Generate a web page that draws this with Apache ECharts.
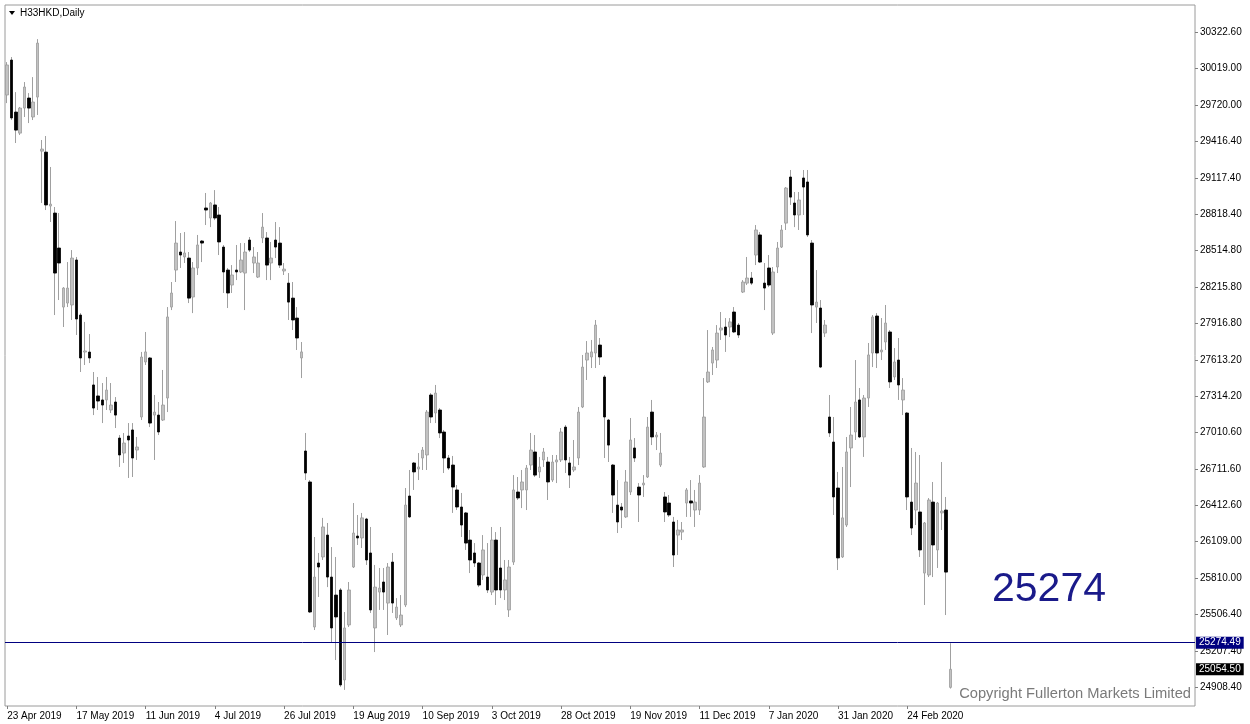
<!DOCTYPE html>
<html><head><meta charset="utf-8">
<script src="https://cdn.jsdelivr.net/npm/echarts@6.0.0/dist/echarts.min.js"></script>
<style>html,body{margin:0;padding:0;background:#fff}#c{width:1250px;height:724px}</style>
</head><body><div id="c"></div>
<script>
const openP = [29802,30091,29661,29487,29694,29777,29620,29785,29338,29330,28884,28826,28537,28049,28082,28066,28438,27983,27677,27677,
27405,27314,27281,27281,27198,27264,26966,26842,26983,27033,26867,27140,27595,27628,27156,27156,27115,27297,28049,28355,
28504,28463,28454,28132,28372,28595,28868,28785,28893,28810,28545,28355,28231,28355,28339,28330,28603,28413,28297,28620,
28620,28413,28603,28578,28347,28247,28123,27958,27628,26859,26603,25404,25933,25983,26164,25817,25668,25710,24966,25421,
25900,26156,26140,26297,26016,25396,25693,25776,25602,25941,25479,25421,25586,26487,26760,26710,26801,26826,27322,27173,
27198,27016,26801,26743,26537,26396,26347,26123,26016,25933,25834,25817,25693,26123,25892,25710,25545,25941,26520,26537,
26537,26743,26851,26686,26785,26768,26619,26768,26785,27057,26760,26702,26801,27223,27611,27636,27669,27735,27471,27115,
26743,26412,26396,26314,26520,26884,26561,26578,26644,27181,26975,26743,26479,26429,26272,26164,26189,26429,26446,26371,
26371,26727,27430,27586,27611,27859,27884,27884,28008,27900,28173,28247,28289,28479,28645,28247,28372,27834,28380,28545,
28743,29124,28909,28810,29116,29083,28578,28049,28041,27834,27140,26933,26553,25983,26247,26884,27016,27281,26975,27297,
27669,27975,27678,27760,27843,27471,27611,27281,27173,26437,26371,26355,25850,25834,26437,26041,26347,26371,24905];
const closeP = [30050,29612,29512,29694,29868,29694,29744,30231,29355,28893,28900,28330,28413,28206,28206,28454,27950,27628,27686,27628,
27214,27272,27239,27363,27239,27156,26826,26925,26950,26801,26892,27636,27678,27090,27181,27016,27239,27967,28165,28578,
28479,28496,28123,28372,28562,28578,28851,28909,28785,28587,28339,28165,28314,28339,28438,28504,28520,28463,28413,28710,
28396,28454,28545,28396,28363,28090,27942,27793,27678,26677,25528,25817,25900,26231,25817,25396,25487,24925,25396,25710,
26181,26140,26306,25958,25545,25734,25726,25693,25900,25602,25569,25503,26412,26314,26686,26727,26867,27181,27140,27338,
27008,26801,26718,26561,26396,26247,26098,25958,25933,25751,26041,25710,26123,25710,25710,25793,25900,26537,26471,26603,
26718,26867,26660,26727,26851,26603,26768,26785,27016,26785,26660,26727,27181,27553,27669,27678,27900,27636,27140,26908,
26495,26272,26371,26603,26950,26801,26495,26594,27057,26975,26991,26842,26355,26330,25999,26206,26206,26537,26429,26437,
26594,27140,27512,27694,27834,27876,27818,27926,27843,27818,28256,28289,28247,28686,28421,28206,28231,28339,28537,28686,
29033,28958,28810,28934,29041,28645,28066,28090,27553,27900,27008,26479,25975,26306,26851,26991,27264,26975,27297,27653,
27967,27669,27694,27917,27430,27595,27405,27363,26479,26222,26594,26041,26264,26454,26082,26429,26363,25858,25054.5];
const lowP = [29735,29595,29405,29471,29620,29570,29595,29637,28909,28851,28752,27983,28107,27884,28049,27942,27818,27512,27570,27586,
27156,27198,27090,27198,27173,27049,26727,26760,26636,26644,26785,27115,27570,27057,26785,26991,27107,27181,28024,28256,
28372,28413,28082,27999,28314,28421,28727,28710,28768,28479,28165,28041,28165,28272,28330,28024,28504,28330,28289,28578,
28272,28272,28454,28372,28314,27942,27859,27694,27462,26619,25520,25379,25652,25958,25734,25280,25131,24909,24884,25404,
25892,26082,26057,25917,25520,25197,25545,25545,25338,25520,25462,25404,25569,26306,26537,26619,26702,26702,27090,27090,
26966,26677,26702,26347,26371,26148,26041,25850,25900,25734,25793,25685,25668,25586,25643,25627,25487,25917,26454,26387,
26371,26702,26644,26636,26727,26454,26603,26594,26768,26677,26553,26686,26743,27214,27446,27545,27545,27570,26801,26768,
26347,26181,26222,26306,26495,26768,26272,26479,26636,26908,26867,26727,26272,26314,25900,25999,26123,26314,26314,26231,
26330,26720,27421,27487,27545,27777,27678,27801,27834,27793,28165,28231,28231,28396,28413,28024,28214,27818,28330,28537,
28686,28893,28710,28686,28810,28628,27834,27917,27545,27801,26975,26330,25875,25975,26231,26561,26950,26966,26810,27223,
27553,27545,27611,27694,27380,27446,27281,27156,26371,26164,26247,25983,25586,25817,25817,25892,26206,25503,24895];
const highP = [30074,30116,29826,29703,29909,29818,29950,30264,29430,29463,29207,28876,28826,28214,28421,28520,28463,27999,27926,27826,
27512,27471,27421,27471,27421,27305,26991,27008,27090,27090,26975,27678,27843,27636,27322,27264,27529,28049,28256,28760,
28661,28669,28504,28421,28645,28603,28992,28917,29016,28876,28562,28372,28396,28562,28578,28578,28628,28545,28504,28826,
28669,28587,28752,28710,28413,28330,28256,28049,27760,27008,26619,26148,26016,26306,26264,26065,25983,25726,25528,25776,
26429,26330,26347,26306,26231,25917,25892,25892,25933,26016,25643,25668,26553,26702,26768,26842,26892,27198,27338,27405,
27214,27033,26826,26818,26578,26512,26355,26206,26098,25941,26164,26098,26231,26189,26231,25958,25958,26660,26644,26702,
26743,27008,26991,26810,26884,26810,26826,26826,27049,27074,26810,26950,27223,27653,27768,27777,27942,27793,27487,27124,
26751,26619,26429,26702,27132,26966,26594,26660,27140,27281,27016,27008,26520,26495,26314,26289,26272,26553,26619,26537,
26660,27462,27859,27719,27900,28008,27958,27958,28049,27917,28272,28463,28339,28727,28669,28413,28479,28380,28587,28727,
29041,29182,29000,29000,29182,29182,28603,28355,28107,27942,27322,27140,26686,26727,26975,27223,27611,27380,27322,27752,
27983,27999,27958,28066,27859,27710,27793,27462,27181,26884,26851,26826,26272,26470,26603,26437,26768,26479,25270];
const dateLabels = ['23 Apr 2019','17 May 2019','11 Jun 2019','4 Jul 2019','26 Jul 2019','19 Aug 2019','10 Sep 2019',
'3 Oct 2019','28 Oct 2019','19 Nov 2019','11 Dec 2019','7 Jan 2020','31 Jan 2020','24 Feb 2020'];
const yTicks = [30322.6,30019.0,29720.0,29416.4,29117.4,28818.4,28514.8,28215.8,27916.8,27613.2,27314.2,27010.6,
26711.6,26412.6,26109.0,25810.0,25506.4,25207.4,24908.4];
const lineLevel = 25274.49;
const bidLevel = 25054.50;
const bigLabel = '25274';
const titleText = 'H33HKD,Daily';
const copyrightText = 'Copyright Fullerton Markets Limited';

const SLOTS = 275, EVERY = 16;
const FONT = '"Liberation Sans", Arial, sans-serif';
const categories = Array.from({length: SLOTS}, (_, i) => String(i));
const isLabelSlot = i => i % EVERY === 0 && (i / EVERY) < dateLabels.length;
const wickData = openP.map((o, i) => [o, closeP[i], lowP[i], highP[i]]);
const bodyData = openP.map((o, i) => [o, closeP[i], Math.min(o, closeP[i]), Math.max(o, closeP[i])]);

const chart = echarts.init(document.getElementById('c'), null, {renderer: 'canvas'});
chart.setOption({
  animation: false,
  backgroundColor: '#ffffff',
  grid: {left: 5, top: 5, width: 1190, height: 701, show: true, borderColor: '#9a9a9a', borderWidth: 1},
  xAxis: {
    type: 'category', data: categories, boundaryGap: true,
    axisLine: {show: false},
    axisTick: {show: true, alignWithLabel: true, length: 3, interval: (i) => isLabelSlot(i), lineStyle: {color: '#808080'}},
    axisLabel: {interval: (i) => isLabelSlot(i), formatter: (v, i) => isLabelSlot(i) ? dateLabels[i / EVERY] : '',
      align: 'left', fontSize: 10, color: '#000', margin: 5, fontFamily: FONT},
    splitLine: {show: false}
  },
  yAxis: {
    type: 'value', position: 'right', min: 24751, max: 30546,
    axisLine: {show: false}, splitLine: {show: false},
    axisTick: {show: true, length: 3, customValues: yTicks, lineStyle: {color: '#808080'}},
    axisLabel: {customValues: yTicks, formatter: v => v.toFixed(2), fontSize: 10, color: '#000', margin: 5, fontFamily: FONT}
  },
  series: [
    {type: 'candlestick', name: 'wick', data: wickData, barWidth: 1, silent: true,
     itemStyle: {color: '#a0a0a0', color0: '#a0a0a0', borderColor: '#a0a0a0', borderColor0: '#a0a0a0', borderWidth: 1}},
    {type: 'candlestick', name: 'body', data: bodyData, barWidth: 3, silent: true, z: 3,
     itemStyle: {color: '#c2c2c2', color0: '#000000', borderColor: '#9c9c9c', borderColor0: '#000000', borderWidth: 0.8},
     markLine: {silent: true, animation: false, symbol: ['none', 'none'],
       data: [
         {yAxis: lineLevel, lineStyle: {color: '#000080', width: 1, type: 'solid'},
          label: {show: true, position: 'end', formatter: lineLevel.toFixed(2), color: '#fff', backgroundColor: '#000080',
                  padding: [1, 3, 1, 3], fontSize: 10, distance: 1, fontFamily: FONT}},
         {yAxis: bidLevel, lineStyle: {color: 'rgba(0,0,0,0)', width: 1},
          label: {show: true, position: 'end', formatter: bidLevel.toFixed(2), color: '#fff', backgroundColor: '#000000',
                  padding: [1, 3, 1, 3], fontSize: 10, distance: 1, fontFamily: FONT}}
       ]}}
  ],
  graphic: [
    {type: 'polygon', shape: {points: [[9, 11], [15, 11], [12, 15]]}, style: {fill: '#000'}},
    {type: 'text', x: 20, y: 13, style: {text: titleText, font: '10px ' + FONT, fill: '#000', textVerticalAlign: 'middle'}},
    {type: 'text', x: 992, y: 590, style: {text: bigLabel, font: '41px ' + FONT, fill: '#1a1a8a', textVerticalAlign: 'middle'}},
    {type: 'text', x: 1191, y: 694, style: {text: copyrightText, font: '14.7px ' + FONT, fill: '#7a7a7a', textAlign: 'right', textVerticalAlign: 'middle'}}
  ]
});
</script></body></html>
